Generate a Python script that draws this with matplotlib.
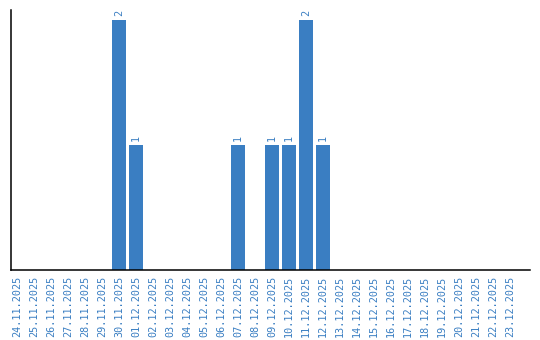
import matplotlib
matplotlib.use("Agg")
import matplotlib.pyplot as plt

# daily counts, 24.11.2025 .. 23.12.2025
dates = [
    "24.11.2025", "25.11.2025", "26.11.2025", "27.11.2025", "28.11.2025",
    "29.11.2025", "30.11.2025", "01.12.2025", "02.12.2025", "03.12.2025",
    "04.12.2025", "05.12.2025", "06.12.2025", "07.12.2025", "08.12.2025",
    "09.12.2025", "10.12.2025", "11.12.2025", "12.12.2025", "13.12.2025",
    "14.12.2025", "15.12.2025", "16.12.2025", "17.12.2025", "18.12.2025",
    "19.12.2025", "20.12.2025", "21.12.2025", "22.12.2025", "23.12.2025",
]
counts = [0, 0, 0, 0, 0, 0, 2, 1, 0, 0, 0, 0, 0, 1, 0,
          1, 1, 2, 1, 0, 0, 0, 0, 0, 0, 0, 0, 0, 0, 0]

blue = "#3a7ec2"

fig = plt.figure(figsize=(5.4, 3.4), dpi=100)
ax = fig.add_axes([11 / 540, 70 / 340, 519 / 540, 260 / 340])

x = range(len(dates))
ax.bar(x, counts, width=0.82, color=blue)
for i, c in enumerate(counts):
    if c > 0:
        ax.text(i, c + 0.03, str(c), rotation=90, ha="center", va="bottom",
                color=blue, fontsize=7.3, family="DejaVu Sans Mono")

ax.set_xlim(-0.35, 30.18)
ax.set_ylim(0, 2.08)
ax.set_xticks(list(x))
ax.set_xticklabels(dates, rotation=90, color=blue, fontsize=7.3,
                   family="DejaVu Sans Mono")
ax.tick_params(axis="x", length=0, pad=4)
ax.set_yticks([])
ax.spines["top"].set_visible(False)
ax.spines["right"].set_visible(False)
ax.spines["left"].set_linewidth(1.1)
ax.spines["bottom"].set_linewidth(1.1)

fig.savefig("out.png", dpi=100)
